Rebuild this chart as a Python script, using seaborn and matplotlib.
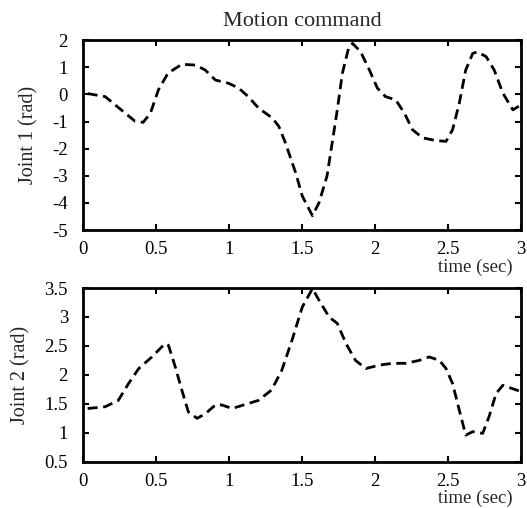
import matplotlib
matplotlib.use("Agg")
import matplotlib.pyplot as plt
import seaborn as sns
import pandas as pd

# ---- data ----
time1 = [0.03, 0.15, 0.26, 0.355, 0.41, 0.46, 0.515, 0.58, 0.675, 0.77, 0.835, 0.905,
         0.996, 1.065, 1.13, 1.20, 1.295, 1.34, 1.385, 1.455, 1.50, 1.57, 1.615, 1.67,
         1.705, 1.74, 1.775, 1.82, 1.845, 1.90, 1.96, 2.015, 2.07, 2.14, 2.20, 2.255,
         2.325, 2.415, 2.485, 2.53, 2.576, 2.62, 2.668, 2.70, 2.76, 2.815, 2.874, 2.943, 3.0]
joint1 = [0.03, -0.08, -0.57, -0.99, -1.03, -0.69, 0.17, 0.78, 1.11, 1.08, 0.9, 0.53,
          0.41, 0.23, -0.08, -0.5, -0.87, -1.18, -1.79, -2.89, -3.74, -4.47, -3.99, -3.0,
          -1.79, -0.57, 0.78, 1.76, 1.88, 1.57, 0.9, 0.23, -0.08, -0.2, -0.69, -1.3,
          -1.6, -1.70, -1.73, -1.3, -0.32, 0.9, 1.51, 1.57, 1.39, 0.9, 0.05, -0.57, -0.38]

time2 = [0.03, 0.15, 0.24, 0.31, 0.38, 0.47, 0.56, 0.584, 0.63, 0.675, 0.72, 0.78,
         0.836, 0.905, 0.95, 1.02, 1.11, 1.20, 1.29, 1.36, 1.43, 1.50, 1.57, 1.615,
         1.684, 1.74, 1.80, 1.865, 1.935, 2.03, 2.12, 2.21, 2.30, 2.37, 2.44, 2.485,
         2.53, 2.576, 2.62, 2.668, 2.736, 2.78, 2.828, 2.874, 2.943, 3.0]
joint2 = [1.42, 1.45, 1.56, 1.85, 2.11, 2.31, 2.54, 2.51, 2.14, 1.74, 1.36, 1.25,
          1.33, 1.48, 1.48, 1.42, 1.49, 1.56, 1.74, 2.08, 2.6, 3.17, 3.49, 3.29,
          3.0, 2.89, 2.54, 2.25, 2.11, 2.17, 2.2, 2.2, 2.25, 2.31, 2.25, 2.11,
          1.85, 1.39, 0.96, 1.02, 0.99, 1.28, 1.68, 1.82, 1.76, 1.71]

xticks = [0, 0.5, 1, 1.5, 2, 2.5, 3]
xticklabels = ["0", "0.5", "1", "1.5", "2", "2.5", "3"]
y1ticks = [2, 1, 0, -1, -2, -3, -4, -5]
y1ticklabels = ["2", "1", "0", "-1", "-2", "-3", "-4", "-5"]
y2ticks = [3.5, 3, 2.5, 2, 1.5, 1, 0.5]
y2ticklabels = ["3.5", "3", "2.5", "2", "1.5", "1", "0.5"]

title = "Motion command"
xlabel = "time (sec)"
ylabel1 = "Joint 1 (rad)"
ylabel2 = "Joint 2 (rad)"

# ---- style ----
sns.set_style("ticks")
plt.rcParams["font.family"] = ["Liberation Serif", "DejaVu Serif"]
plt.rcParams["axes.linewidth"] = 2.0
plt.rcParams["xtick.direction"] = "in"
plt.rcParams["ytick.direction"] = "in"

fig = plt.figure(figsize=(5.27, 5.08), dpi=100)
ax1 = fig.add_axes([0.158, 0.547, 0.831, 0.374])
ax2 = fig.add_axes([0.158, 0.091, 0.831, 0.342])

df1 = pd.DataFrame({"t": time1, "v": joint1})
df2 = pd.DataFrame({"t": time2, "v": joint2})

dash = (0, (3.6, 2.0))
sns.lineplot(data=df1, x="t", y="v", ax=ax1, color="black", linewidth=2.0, linestyle=dash)
sns.lineplot(data=df2, x="t", y="v", ax=ax2, color="black", linewidth=2.0, linestyle=dash)

for ax, yt, ytl, ylab, ylim in [(ax1, y1ticks, y1ticklabels, ylabel1, (-5, 2)),
                                (ax2, y2ticks, y2ticklabels, ylabel2, (0.5, 3.5))]:
    ax.set_xlim(0, 3)
    ax.set_ylim(*ylim)
    ax.set_xticks(xticks)
    ax.set_xticklabels(xticklabels, fontsize=13.5)
    ax.set_yticks(yt)
    ax.set_yticklabels(ytl, fontsize=13.5)
    ax.tick_params(axis="x", which="both", top=True, bottom=True, length=4,
                   width=1.5, pad=8, colors="black")
    ax.tick_params(axis="y", which="both", left=True, right=True, length=4,
                   width=1.5, pad=11, colors="black")
    ax.set_ylabel(ylab, fontsize=14.5, labelpad=10)
    ax.set_xlabel(xlabel, fontsize=13.5, loc="right", labelpad=0)
    ax.xaxis.label.set_x(0.98)
    for s in ax.spines.values():
        s.set_visible(True)
        s.set_color("black")
        s.set_linewidth(2.0)

ax1.set_title(title, fontsize=16, pad=10)

fig.savefig("out.png", dpi=100)
